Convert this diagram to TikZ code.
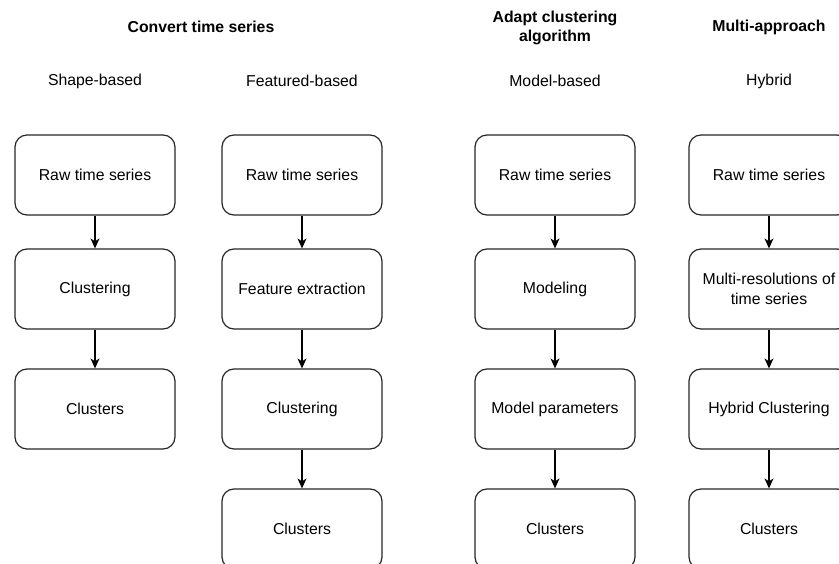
\documentclass[tikz,border=0pt]{standalone}
\usepackage{fontspec}
\setmainfont{Liberation Sans}
\usetikzlibrary{arrows.meta}
\begin{document}
\begin{tikzpicture}[x=1pt,y=1pt,
  box/.style={draw=black!85, line width=1.2pt, rounded corners=12pt, minimum width=160pt, minimum height=80pt, align=center, font=\fontsize{15.8}{20}\selectfont, inner sep=2pt},
  head/.style={font=\fontsize{15.8}{19}\selectfont\bfseries, align=center},
  sub/.style={font=\fontsize{15.8}{19}\selectfont},
  arr/.style={line width=1.4pt, -{Stealth[length=10pt,width=9pt,inset=3pt]}}]
\useasboundingbox (0,0) rectangle (839,-564);
\clip (0,0) rectangle (839,-564);
% headers
\node[head] (h1) at (201,-27) {Convert time series};
\node[head] (h2) at (555,-28) {Adapt clustering\\algorithm};
\node[head] (h3) at (769,-27) {Multi-approach};
\node[sub] (s1) at (95,-81) {Shape-based};
\node[sub] (s2) at (302,-81) {Featured-based};
\node[sub] (s3) at (555,-81) {Model-based};
\node[sub] (s4) at (769,-81) {Hybrid};
% column 1
\node[box] (a1) at (95,-175) {Raw time series};
\node[box] (a2) at (95,-289) {Clustering};
\node[box] (a3) at (95,-409) {Clusters};
% column 2
\node[box] (b1) at (302,-175) {Raw time series};
\node[box] (b2) at (302,-289) {Feature extraction};
\node[box] (b3) at (302,-409) {Clustering};
\node[box] (b4) at (302,-529) {Clusters};
% column 3
\node[box] (c1) at (555,-175) {Raw time series};
\node[box] (c2) at (555,-289) {Modeling};
\node[box] (c3) at (555,-409) {Model parameters};
\node[box] (c4) at (555,-529) {Clusters};
% column 4
\node[box] (d1) at (769,-175) {Raw time series};
\node[box] (d2) at (769,-289) {Multi-resolutions of\\time series};
\node[box] (d3) at (769,-409) {Hybrid Clustering};
\node[box] (d4) at (769,-529) {Clusters};
% arrows
\draw[arr] (a1) -- (a2);
\draw[arr] (a2) -- (a3);
\draw[arr] (b1) -- (b2);
\draw[arr] (b2) -- (b3);
\draw[arr] (b3) -- (b4);
\draw[arr] (c1) -- (c2);
\draw[arr] (c2) -- (c3);
\draw[arr] (c3) -- (c4);
\draw[arr] (d1) -- (d2);
\draw[arr] (d2) -- (d3);
\draw[arr] (d3) -- (d4);
\end{tikzpicture}
\end{document}
